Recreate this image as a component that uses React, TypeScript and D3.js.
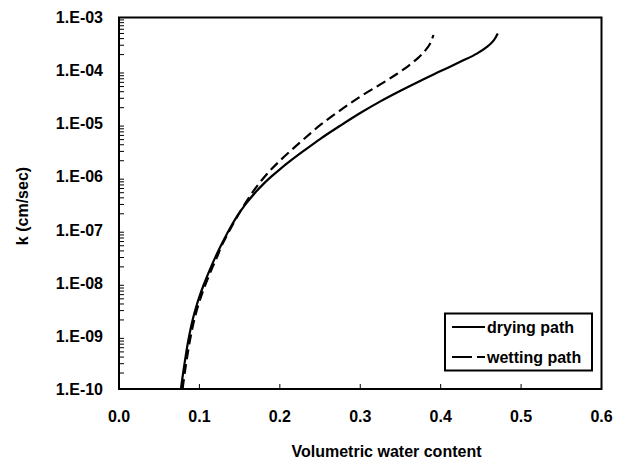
import React from "react";
import * as d3 from "d3";

// Volumetric water content (theta) and log10 of hydraulic conductivity k (cm/sec)
const dryingTheta = [0.077, 0.080, 0.083, 0.086, 0.089, 0.092, 0.096, 0.100, 0.105, 0.110, 0.115, 0.120, 0.126, 0.132, 0.138, 0.145, 0.152, 0.160, 0.170, 0.180, 0.190, 0.200, 0.215, 0.230, 0.250, 0.275, 0.300, 0.325, 0.350, 0.375, 0.400, 0.425, 0.445, 0.458, 0.466, 0.471];
const dryingLogK = [-10, -9.67, -9.37, -9.1, -8.87, -8.67, -8.45, -8.26, -8.05, -7.86, -7.68, -7.51, -7.32, -7.14, -6.97, -6.79, -6.63, -6.47, -6.29, -6.13, -5.99, -5.86, -5.68, -5.51, -5.29, -5.04, -4.8, -4.58, -4.38, -4.19, -4.01, -3.83, -3.68, -3.55, -3.43, -3.3];

const wettingTheta = [0.079, 0.082, 0.085, 0.088, 0.091, 0.094, 0.098, 0.102, 0.107, 0.112, 0.117, 0.122, 0.127, 0.133, 0.139, 0.146, 0.153, 0.161, 0.170, 0.180, 0.190, 0.200, 0.215, 0.230, 0.250, 0.275, 0.300, 0.325, 0.345, 0.360, 0.372, 0.381, 0.387, 0.391];
const wettingLogK = [-10, -9.67, -9.37, -9.1, -8.87, -8.67, -8.45, -8.26, -8.05, -7.86, -7.68, -7.51, -7.32, -7.14, -6.97, -6.78, -6.6, -6.41, -6.21, -6.02, -5.85, -5.7, -5.49, -5.29, -5.03, -4.75, -4.49, -4.26, -4.07, -3.91, -3.76, -3.62, -3.49, -3.33];

const xTicks = [0.0, 0.1, 0.2, 0.3, 0.4, 0.5, 0.6];
const yTickExps = [-3, -4, -5, -6, -7, -8, -9, -10];
const yTickLabels = ["1.E-03", "1.E-04", "1.E-05", "1.E-06", "1.E-07", "1.E-08", "1.E-09", "1.E-10"];
const seriesNames = ["drying path", "wetting path"];

const W = 624, H = 459;
const left = 119, right = 601.5, top = 17.5, bottom = 389;
const font = "'Liberation Sans', Arial, sans-serif";

export default function App() {
  const x = d3.scaleLinear().domain([0, 0.6]).range([left, right]);
  const y = d3.scaleLog().domain([1e-10, 1e-3]).range([bottom, top]);

  const line = d3
    .line<[number, number]>()
    .x((d) => x(d[0]))
    .y((d) => y(Math.pow(10, d[1])))
    .curve(d3.curveCatmullRom.alpha(0.5));

  const dry: [number, number][] = dryingTheta.map((t, i) => [t, dryingLogK[i]]);
  const wet: [number, number][] = wettingTheta.map((t, i) => [t, wettingLogK[i]]);

  const minor: number[] = [];
  for (let e = -10; e < -3; e++) {
    for (let m = 2; m <= 9; m++) minor.push(m * Math.pow(10, e));
  }

  return (
    <svg width={W} height={H} style={{ position: "absolute", left: 0, top: 0, background: "#fff" }} fontFamily={font}>
      <rect x={0} y={0} width={W} height={H} fill="#fff" />
      {/* minor y ticks */}
      {minor.map((v, i) => (
        <line key={"m" + i} x1={left} x2={left + 5} y1={y(v)} y2={y(v)} stroke="#000" strokeWidth={1} />
      ))}
      {/* x ticks */}
      {xTicks.slice(1, -1).map((t) => (
        <line key={"xt" + t} x1={x(t)} x2={x(t)} y1={bottom} y2={bottom - 5} stroke="#000" strokeWidth={1} />
      ))}
      {/* curves */}
      <path d={line(dry) || ""} fill="none" stroke="#000" strokeWidth={2.2} />
      <path d={line(wet) || ""} fill="none" stroke="#000" strokeWidth={2.2} strokeDasharray="10,5" />
      {/* frame */}
      <rect x={left} y={top} width={right - left} height={bottom - top} fill="none" stroke="#000" strokeWidth={2} />
      {/* y tick labels */}
      {yTickExps.map((e, i) => (
        <text key={"yl" + e} x={103} y={y(Math.pow(10, e))} dy="0.36em" textAnchor="end" fontSize={16} fontWeight="bold" fill="#000">
          {yTickLabels[i]}
        </text>
      ))}
      {/* x tick labels */}
      {xTicks.map((t) => (
        <text key={"xl" + t} x={x(t)} y={422} textAnchor="middle" fontSize={16} fontWeight="bold" fill="#000">
          {t.toFixed(1)}
        </text>
      ))}
      {/* axis titles */}
      <text x={386.5} y={457} textAnchor="middle" fontSize={16} fontWeight="bold" fill="#000">
        Volumetric water content
      </text>
      <text transform="translate(28,206) rotate(-90)" textAnchor="middle" fontSize={16} fontWeight="bold" fill="#000">
        k (cm/sec)
      </text>
      {/* legend */}
      <rect x={445} y={313.5} width={147} height={57} fill="#fff" stroke="#000" strokeWidth={2} />
      <line x1={452} x2={485} y1={327} y2={327} stroke="#000" strokeWidth={2.2} />
      <line x1={452} x2={485} y1={357} y2={357} stroke="#000" strokeWidth={2.2} strokeDasharray="20,5" />
      <text x={487} y={333} fontSize={16} fontWeight="bold" fill="#000">{seriesNames[0]}</text>
      <text x={487} y={363} fontSize={16} fontWeight="bold" fill="#000">{seriesNames[1]}</text>
    </svg>
  );
}
